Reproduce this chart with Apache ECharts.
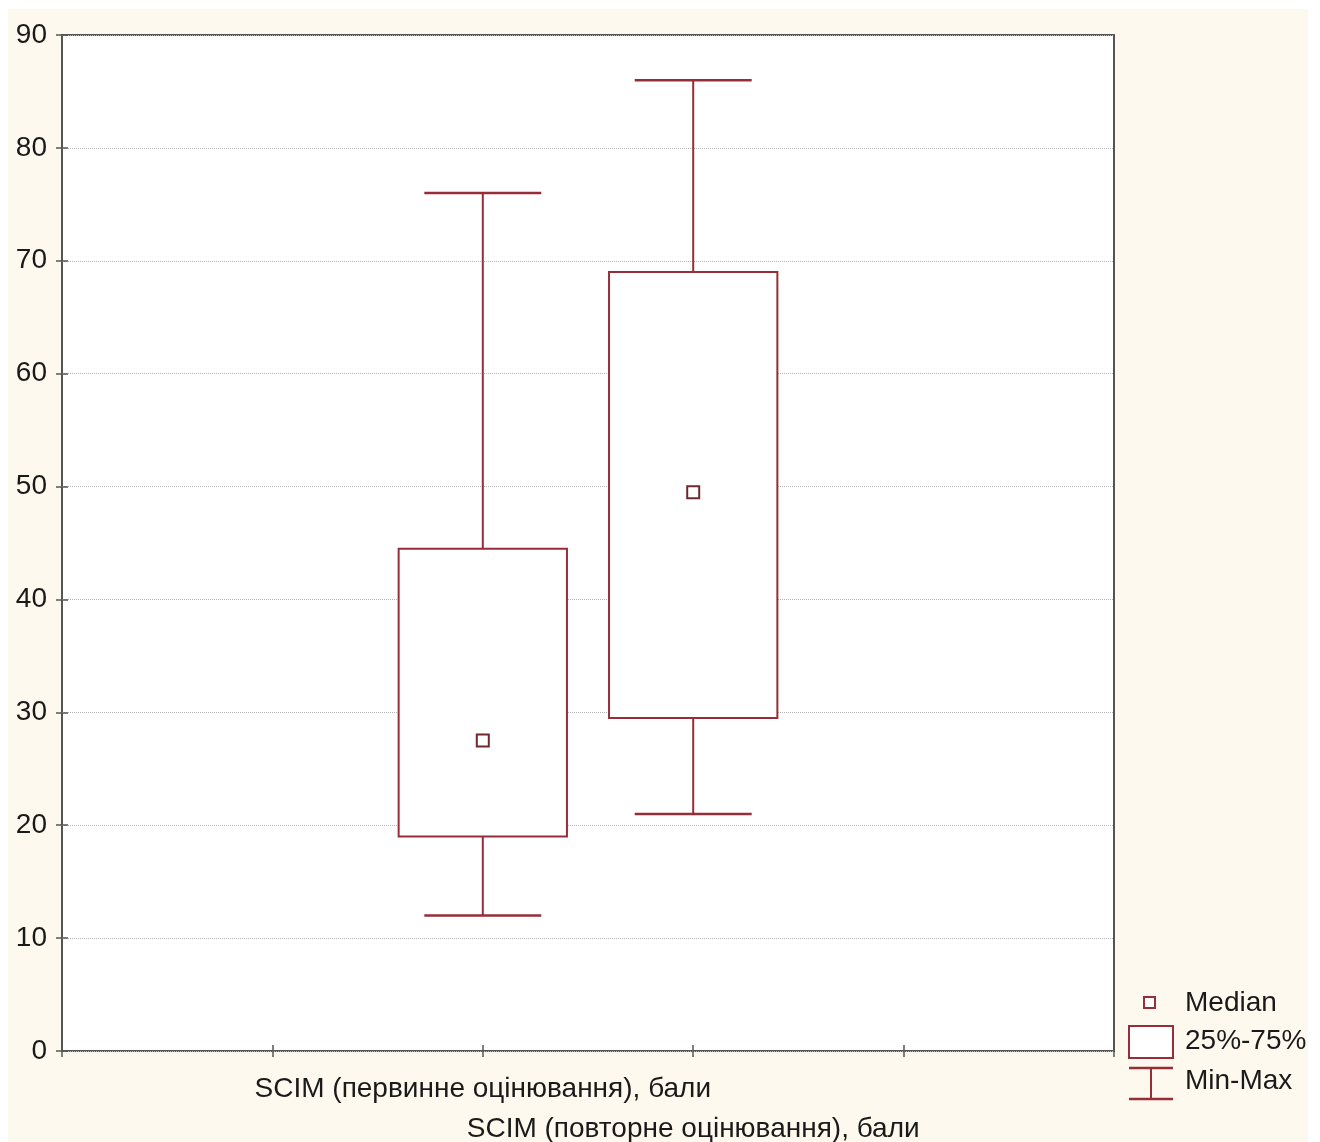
<!DOCTYPE html>
<html><head><meta charset="utf-8">
<script src="https://cdn.jsdelivr.net/npm/echarts@6/dist/echarts.min.js"></script>
<style>html,body{margin:0;padding:0;background:#fff}#c{width:1320px;height:1142px}</style>
</head><body><div id="c"></div>
<script>
// ---- data ----
const categories = ['SCIM (первинне оцінювання), бали', 'SCIM (повторне оцінювання), бали'];
const slots = [2, 3];               // positions on the 0..5 x scale
const minValues = [12, 21];
const q1Values = [19, 29.5];
const medianValues = [27.5, 49.5];
const q3Values = [44.5, 69];
const maxValues = [76, 86];
const yTicks = [0, 10, 20, 30, 40, 50, 60, 70, 80, 90];
const legendLabels = ['Median', '25%-75%', 'Min-Max'];

// ---- styles ----
const BOX = '#972d38';
const MED = '#6e2a2e';
const FONT = 'Liberation Sans, Arial, sans-serif';
const TXT = '#1a1a1a';
const FS = 28;

const seriesData = categories.map((c, i) => [slots[i], minValues[i], q1Values[i], medianValues[i], q3Values[i], maxValues[i]]);

function renderItem(params, api) {
  const x = api.value(0);
  const pMin = api.coord([x, api.value(1)]);
  const pQ1 = api.coord([x, api.value(2)]);
  const pMed = api.coord([x, api.value(3)]);
  const pQ3 = api.coord([x, api.value(4)]);
  const pMax = api.coord([x, api.value(5)]);
  const unit = api.size([1, 0])[0];
  const bw = unit * 0.8, cw = unit * 0.556;
  const cx = pMin[0];
  const ls = { stroke: BOX, lineWidth: 2, fill: null };
  const cs = { stroke: BOX, lineWidth: 2.5, fill: null };
  return {
    type: 'group', children: [
      { type: 'line', shape: { x1: cx, y1: pMax[1], x2: cx, y2: pQ3[1] }, style: ls },
      { type: 'line', shape: { x1: cx - cw / 2, y1: pMax[1], x2: cx + cw / 2, y2: pMax[1] }, style: cs },
      { type: 'line', shape: { x1: cx, y1: pQ1[1], x2: cx, y2: pMin[1] }, style: ls },
      { type: 'line', shape: { x1: cx - cw / 2, y1: pMin[1], x2: cx + cw / 2, y2: pMin[1] }, style: cs },
      { type: 'rect', shape: { x: cx - bw / 2, y: pQ3[1], width: bw, height: pQ1[1] - pQ3[1] }, style: { fill: '#fff', stroke: BOX, lineWidth: 2 } },
      { type: 'rect', shape: { x: cx - 6, y: pMed[1] - 6, width: 12, height: 12 }, style: { fill: '#fff', stroke: MED, lineWidth: 2 } }
    ]
  };
}

const chart = echarts.init(document.getElementById('c'), null, { renderer: 'canvas' });
const yMin = yTicks[0], yMax = yTicks[yTicks.length - 1], yStep = yTicks[1] - yTicks[0];
const tickStyle = { show: true, inside: true, length: 6, lineStyle: { color: '#555', width: 1.5 } };

function legendText(i, y) {
  return { type: 'text', z: 10, x: 1185, y: y, style: { text: legendLabels[i], fill: TXT, font: FS + 'px ' + FONT, align: 'left', verticalAlign: 'middle' } };
}

chart.setOption({
  animation: false,
  backgroundColor: '#fff',
  textStyle: { fontFamily: FONT },
  grid: { left: 62, top: 35, right: 206, bottom: 91, outerBoundsMode: 'none', containLabel: false,
          show: true, backgroundColor: '#fff', borderColor: '#555', borderWidth: 2 },
  xAxis: [
    {
      type: 'value', min: 0, max: 5, interval: 1, position: 'bottom',
      axisLine: { show: false }, axisTick: tickStyle, splitLine: { show: false },
      axisLabel: {
        show: true, margin: 18, color: TXT, fontSize: FS, fontFamily: FONT, lineHeight: 40,
        formatter: v => {
          const i = slots.indexOf(v);
          if (i < 0) return '';
          return (i % 2 === 1 ? '\n' : '') + categories[i];
        }
      }
    },
    {
      type: 'value', min: 0, max: 5, interval: 1, position: 'top',
      axisLine: { show: false }, axisTick: tickStyle, splitLine: { show: false }, axisLabel: { show: false }
    }
  ],
  yAxis: [
    {
      type: 'value', min: yMin, max: yMax, interval: yStep, position: 'left',
      axisLine: { show: false }, axisTick: tickStyle,
      splitLine: { show: true, lineStyle: { color: '#b4b4b4', type: 'dotted', width: 1 } },
      axisLabel: { color: TXT, fontSize: FS, fontFamily: FONT, margin: 15 }
    },
    {
      type: 'value', min: yMin, max: yMax, interval: yStep, position: 'right',
      axisLine: { show: false }, axisTick: tickStyle, splitLine: { show: false }, axisLabel: { show: false }
    }
  ],
  series: [{
    type: 'custom', renderItem, data: seriesData, xAxisIndex: 0, yAxisIndex: 0,
    encode: { x: 0, y: [1, 2, 3, 4, 5] }, z: 5
  }],
  graphic: [
    { type: 'rect', z: -100, silent: true, shape: { x: 8, y: 9, width: 1300, height: 1140 }, style: { fill: '#fef9ee' } },
    // legend: median
    { type: 'rect', z: 10, shape: { x: 1144, y: 997, width: 11, height: 11 }, style: { fill: '#fff', stroke: BOX, lineWidth: 2 } },
    legendText(0, 1003),
    // legend: box
    { type: 'rect', z: 10, shape: { x: 1129, y: 1026, width: 44, height: 32 }, style: { fill: '#fff', stroke: BOX, lineWidth: 2 } },
    legendText(1, 1041),
    // legend: whisker
    { type: 'line', z: 10, shape: { x1: 1129, y1: 1068, x2: 1173, y2: 1068 }, style: { stroke: BOX, lineWidth: 2.5 } },
    { type: 'line', z: 10, shape: { x1: 1129, y1: 1099, x2: 1173, y2: 1099 }, style: { stroke: BOX, lineWidth: 2.5 } },
    { type: 'line', z: 10, shape: { x1: 1151, y1: 1068, x2: 1151, y2: 1099 }, style: { stroke: BOX, lineWidth: 2 } },
    legendText(2, 1081)
  ]
});
</script>
</body></html>
